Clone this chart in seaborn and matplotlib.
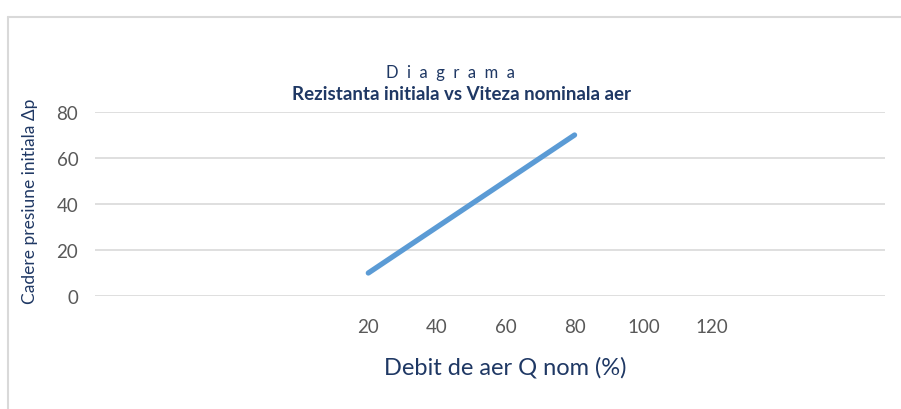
import matplotlib
matplotlib.use('Agg')
import matplotlib.pyplot as plt
from matplotlib.lines import Line2D
import pandas as pd
import seaborn as sns

# values
debit = [20, 40, 60, 80]
cadere = [10, 30, 50, 70]
x_ticks = [20, 40, 60, 80, 100, 120]
y_ticks = [0, 20, 40, 60, 80]

NAVY = '#1F3864'
GRAY = '#595959'

sns.set_theme(style='white')
plt.rcParams['font.family'] = ['Lato', 'DejaVu Sans']

df = pd.DataFrame({'debit': debit, 'cadere': cadere})

fig = plt.figure(figsize=(9.01, 4.10), dpi=100)
ax = fig.add_axes([95 / 901, 1 - 297 / 410, 790 / 901, 184 / 410])

sns.lineplot(data=df, x='debit', y='cadere', ax=ax, color='#5B9BD5',
             linewidth=3.8, solid_capstyle='round')

ax.set_xlim(-59.5, 170.3)
ax.set_ylim(0, 80)
ax.set_xticks(x_ticks)
ax.set_yticks(y_ticks)
ax.grid(axis='y', color='#D9D9D9', linewidth=1.2)
ax.set_axisbelow(True)
for s in ax.spines.values():
    s.set_visible(False)
ax.tick_params(axis='x', length=0, pad=16, labelsize=13.5, labelcolor=GRAY)
ax.tick_params(axis='y', length=0, pad=12, labelsize=13.5, labelcolor=GRAY)

ax.set_xlabel('Debit de aer Q nom (%)', fontsize=17, color=NAVY)
ax.xaxis.set_label_coords((505 - 95) / 790, -(368 - 297) / 184)
ax.xaxis.label.set_va('center')
ax.set_ylabel('Cadere presiune initiala \u0394p', fontsize=12.5, color=NAVY)
ax.yaxis.set_label_coords((30 - 95) / 790, (297 - 201) / 184)
ax.yaxis.label.set_va('center')

fig.text(450 / 901, 1 - 73 / 410, 'D  i  a  g  r  a  m  a', ha='center',
         va='center', fontsize=12, color=NAVY)
fig.text(461 / 901, 1 - 95 / 410, 'Rezistanta initiala vs Viteza nominala aer',
         ha='center', va='center', fontsize=13.5, fontweight='bold', color=NAVY)

# chart frame
fig.add_artist(Line2D([8 / 901, 1], [1 - 18 / 410] * 2, color='#D9D9D9',
                      linewidth=1.5, transform=fig.transFigure))
fig.add_artist(Line2D([8 / 901] * 2, [0, 1 - 18 / 410], color='#D9D9D9',
                      linewidth=1.5, transform=fig.transFigure))

fig.savefig('out.png', dpi=100)
